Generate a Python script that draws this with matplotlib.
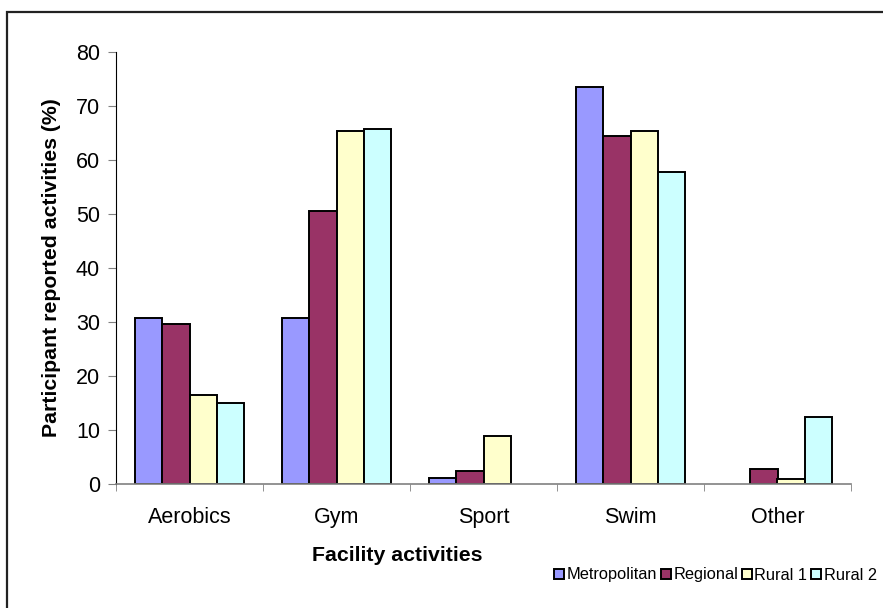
import matplotlib.pyplot as plt
import numpy as np
from matplotlib.patches import Rectangle

categories = ["Aerobics", "Gym", "Sport", "Swim", "Other"]
series = ["Metropolitan", "Regional", "Rural 1", "Rural 2"]
metropolitan = [30.6, 30.6, 1.0, 73.5, 0.0]
regional = [29.6, 50.6, 2.4, 64.5, 2.7]
rural1 = [16.5, 65.4, 8.8, 65.4, 0.8]
rural2 = [15.0, 65.8, 0.0, 57.7, 12.3]
colors = ["#9999FF", "#993366", "#FFFFCC", "#CCFFFF"]

plt.rcParams['font.family'] = ['Liberation Sans', 'DejaVu Sans']

fig = plt.figure(figsize=(8.83, 6.08), dpi=100)
ax = fig.add_axes([116/883, 1 - 483.5/608, (851 - 116)/883, (483.5 - 52)/608])

# outer chart border
fig.patches.append(Rectangle((7.5/883, -0.05), 1.1, 1 - 11.5/608 + 0.05,
                             transform=fig.transFigure, fill=False,
                             edgecolor="#222222", linewidth=1.6, zorder=10))

x = np.arange(len(categories))
w = 0.184
data = [metropolitan, regional, rural1, rural2]
for i in range(4):
	bars = ax.bar(x + (i - 1.5) * w, data[i], w, color=colors[i], edgecolor="black",
	              linewidth=1.4, label=series[i])
	for b in bars:
		if b.get_height() == 0:
			b.set_visible(False)

ax.set_xlim(-0.5, len(categories) - 0.5)
ax.set_ylim(0, 80)
ax.set_yticks(range(0, 81, 10))
ax.set_xticks(x)
ax.set_xticklabels(categories, fontsize=15.5)
ax.set_xticks(np.arange(-0.5, len(categories), 1), minor=True)
ax.tick_params(axis="x", which="major", length=0, pad=17)
ax.tick_params(axis="x", which="minor", length=5, color="#808080", direction="out")
ax.tick_params(axis="y", length=6, color="#808080", labelsize=15.5, pad=5.5)

for s in ["top", "right"]:
	ax.spines[s].set_visible(False)
ax.spines["left"].set_color("black")
ax.spines["bottom"].set_color("#808080")
ax.spines["bottom"].set_linewidth(1.2)

ax.set_xlabel("Facility activities", fontsize=15.3, fontweight="bold")
ax.set_ylabel("Participant reported activities (%)", fontsize=15.3, fontweight="bold", labelpad=10.5)
ax.xaxis.set_label_coords((397 - 116)/735, (483.5 - 546)/431.5)

leg = fig.legend(loc="center left", bbox_to_anchor=(554/883, 1 - 575/608), ncol=4,
                 frameon=False, fontsize=11.8, handlelength=0.6, handleheight=0.6,
                 handletextpad=0.15, columnspacing=0.25, borderaxespad=0, borderpad=0)

plt.savefig("out.png", dpi=100)
